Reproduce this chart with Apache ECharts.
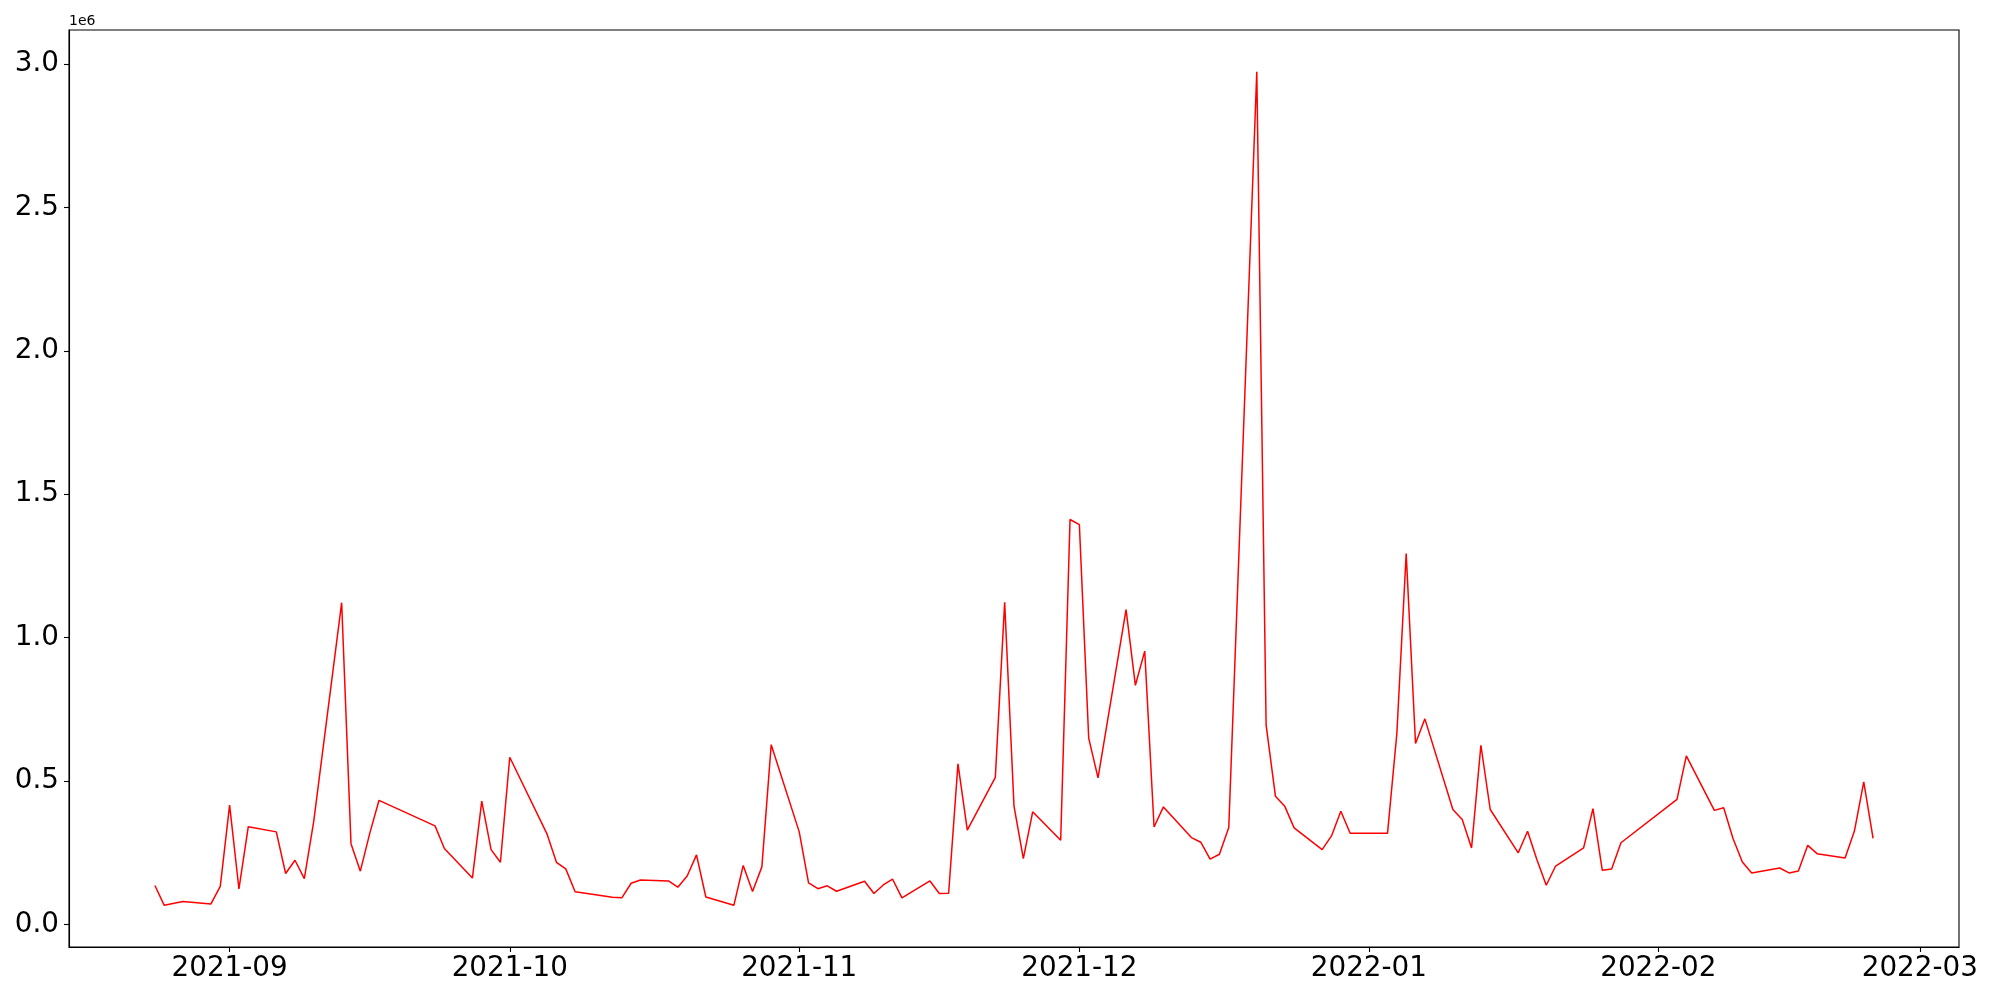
<!DOCTYPE html>
<html>
<head>
<meta charset="utf-8">
<script src="https://cdn.jsdelivr.net/npm/echarts@6/dist/echarts.min.js"></script>
<style>
html, body { margin: 0; padding: 0; background: #fff; }
#chart { width: 2000px; height: 1000px; }
</style>
</head>
<body>
<div id="chart"></div>
<script>
const dates = [
  '2021-08-24','2021-08-25','2021-08-27','2021-08-30','2021-08-31',
  '2021-09-01','2021-09-02','2021-09-03','2021-09-06','2021-09-07','2021-09-08','2021-09-09','2021-09-10',
  '2021-09-13','2021-09-14','2021-09-15','2021-09-16','2021-09-17','2021-09-23','2021-09-24',
  '2021-09-27','2021-09-28','2021-09-29','2021-09-30','2021-10-01','2021-10-05','2021-10-06','2021-10-07','2021-10-08',
  '2021-10-12','2021-10-13','2021-10-14','2021-10-15','2021-10-18','2021-10-19','2021-10-20','2021-10-21','2021-10-22',
  '2021-10-25','2021-10-26','2021-10-27','2021-10-28','2021-10-29','2021-11-01','2021-11-02','2021-11-03','2021-11-04','2021-11-05',
  '2021-11-08','2021-11-09','2021-11-10','2021-11-11','2021-11-12','2021-11-15','2021-11-16','2021-11-17','2021-11-18','2021-11-19',
  '2021-11-22','2021-11-23','2021-11-24','2021-11-25','2021-11-26','2021-11-29','2021-11-30','2021-12-01','2021-12-02','2021-12-03',
  '2021-12-06','2021-12-07','2021-12-08','2021-12-09','2021-12-10','2021-12-13','2021-12-14','2021-12-15','2021-12-16','2021-12-17',
  '2021-12-20','2021-12-21','2021-12-22','2021-12-23','2021-12-24','2021-12-27','2021-12-28','2021-12-29','2021-12-30',
  '2022-01-03','2022-01-04','2022-01-05','2022-01-06','2022-01-07','2022-01-10','2022-01-11','2022-01-12','2022-01-13','2022-01-14',
  '2022-01-17','2022-01-18','2022-01-19','2022-01-20','2022-01-21','2022-01-24','2022-01-25','2022-01-26','2022-01-27','2022-01-28',
  '2022-02-03','2022-02-04','2022-02-07','2022-02-08','2022-02-09','2022-02-10','2022-02-11',
  '2022-02-14','2022-02-15','2022-02-16','2022-02-17','2022-02-18','2022-02-21','2022-02-22','2022-02-23','2022-02-24'
];
const values = [
  136000, 67000, 80000, 72000, 133000,
  416000, 124000, 341000, 323000, 178000, 224000, 160000, 358000,
  1122000, 282000, 186000, 317000, 433000, 344000, 265000,
  162000, 430000, 261000, 217000, 583000, 315000, 217000, 194000, 114000,
  95000, 93000, 144000, 155000, 152000, 130000, 169000, 243000, 96000,
  67000, 206000, 115000, 201000, 627000, 323000, 145000, 125000, 135000, 116000,
  151000, 108000, 138000, 158000, 93000, 152000, 108000, 109000, 560000, 329000,
  513000, 1123000, 413000, 230000, 393000, 294000, 1412000, 1394000, 650000, 511000,
  1098000, 834000, 953000, 340000, 410000, 303000, 287000, 228000, 245000, 338000,
  2973000, 695000, 447000, 412000, 337000, 261000, 309000, 395000, 318000,
  318000, 666000, 1293000, 631000, 717000, 401000, 366000, 267000, 625000, 401000,
  250000, 325000, 226000, 137000, 204000, 267000, 404000, 189000, 194000, 285000,
  436000, 588000, 398000, 407000, 300000, 218000, 180000,
  197000, 180000, 187000, 276000, 247000, 232000, 326000, 497000, 300000
];
const xTickLabels = ['2021-09','2021-10','2021-11','2021-12','2022-01','2022-02','2022-03'];
const yTickValues = [0, 500000, 1000000, 1500000, 2000000, 2500000, 3000000];

function ts(s) {
  const p = s.split('-').map(Number);
  return Date.UTC(p[0], p[1] - 1, p[2] || 1);
}
const seriesData = dates.map((d, i) => [ts(d), values[i]]);
const xTicks = xTickLabels.map(ts);

const tMin = ts(dates[0]), tMax = ts(dates[dates.length - 1]);
const tPad = (tMax - tMin) * 0.05;
const vMin = Math.min(...values), vMax = Math.max(...values);
const vPad = (vMax - vMin) * 0.05;

const font = 'DejaVu Sans';
const chart = echarts.init(document.getElementById('chart'), null, { renderer: 'canvas' });
chart.setOption({
  animation: false,
  backgroundColor: '#fff',
  grid: {
    left: 69, right: 41, top: 30, bottom: 53,
    show: true, borderColor: '#000', borderWidth: 1.1, backgroundColor: 'transparent'
  },
  graphic: [{
    type: 'text', left: 69, top: 14,
    style: { text: '1e6', font: '14px "DejaVu Sans"', fill: '#000' }
  }],
  xAxis: {
    type: 'value',
    min: tMin - tPad,
    max: tMax + tPad,
    splitLine: { show: false },
    axisLine: { show: true, onZero: false, lineStyle: { color: '#000', width: 1.1 } },
    axisTick: { show: true, length: 5, lineStyle: { color: '#000', width: 1.1 }, customValues: xTicks },
    axisLabel: {
      customValues: xTicks,
      fontFamily: font, fontSize: 27.8, color: '#000', margin: 8,
      formatter: function (v) {
        const d = new Date(v);
        return d.getUTCFullYear() + '-' + String(d.getUTCMonth() + 1).padStart(2, '0');
      }
    }
  },
  yAxis: {
    type: 'value',
    min: vMin - vPad,
    max: vMax + vPad,
    splitLine: { show: false },
    axisLine: { show: true, onZero: false, lineStyle: { color: '#000', width: 1.1 } },
    axisTick: { show: true, length: 5, lineStyle: { color: '#000', width: 1.1 }, customValues: yTickValues },
    axisLabel: {
      customValues: yTickValues,
      fontFamily: font, fontSize: 27.8, color: '#000', margin: 10,
      formatter: function (v) { return (v / 1e6).toFixed(1); }
    }
  },
  series: [{
    type: 'line',
    data: seriesData,
    showSymbol: false,
    symbol: 'none',
    lineStyle: { color: '#ff0000', width: 1.5 },
    itemStyle: { color: '#ff0000' }
  }]
});
</script>
</body>
</html>
